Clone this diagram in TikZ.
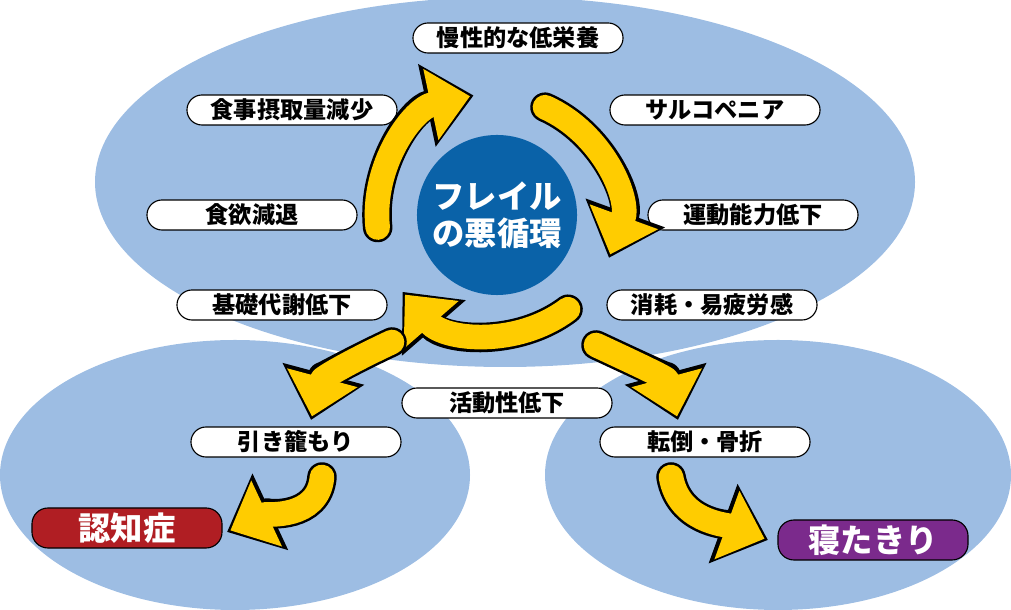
\documentclass[tikz,border=0pt]{standalone}
\usepackage{fontspec}
\setmainfont{Noto Sans CJK JP}
\usetikzlibrary{arrows.meta, calc}
\definecolor{pale}{HTML}{9DBDE3}
\definecolor{core}{HTML}{0A62A8}
\definecolor{flow}{HTML}{FFCC00}
\definecolor{dementia}{HTML}{B01E23}
\definecolor{bedrid}{HTML}{7B2A8C}
\tikzset{%
  tag/.style={draw=black, fill=white, thick, rounded corners=0.375cm,
    minimum width=5.25cm, minimum height=0.75cm, inner sep=0pt,
    font=\fontsize{16.5}{18}\selectfont\bfseries},
  goal/.style={draw=black, thick, rounded corners=0.4cm, text=white,
    minimum width=4.75cm, minimum height=1cm, inner sep=0pt,
    font=\fontsize{23}{25}\selectfont\bfseries},
  arrowedge/.style={draw=black, line width=21pt, line cap=round,
    -{Triangle[length=34pt, width=58pt]}},
  arrowfill/.style={draw=flow, line width=17.5pt, line cap=round, shorten >=2.6pt,
    -{Triangle[length=28.5pt, width=50pt]}}
}
\newcommand{\flowarrow}[1]{\draw[arrowedge] #1; \draw[arrowfill] #1;}

\begin{document}
\begin{tikzpicture}[x=0.025cm, y=0.025cm]

\useasboundingbox (0,0) rectangle (1011,610);

% background clouds
\fill[pale] (505,428) ellipse [x radius=410, y radius=185];
\fill[pale] (235,135) ellipse [x radius=235, y radius=135];
\fill[pale] (778,135) ellipse [x radius=233, y radius=135];

\node[circle, fill=core, minimum size=4cm, text=white, align=center,
  font=\fontsize{23}{26}\selectfont\bfseries] (cycle) at (497,395) {フレイル\\の悪循環};

\node[tag] (malnut) at (518,572) {慢性的な低栄養};
\node[tag] (intake) at (292,500) {食事摂取量減少};
\node[tag] (sarco) at (715,500) {サルコペニア};
\node[tag] (appetite) at (252,395) {食欲減退};
\node[tag] (motor) at (753,395) {運動能力低下};
\node[tag] (basal) at (282,305) {基礎代謝低下};
\node[tag] (fatigue) at (712,305) {消耗・易疲労感};
\node[tag] (activity) at (507,207) {活動性低下};
\node[tag] (withdraw) at (296,168) {引き籠もり};
\node[tag] (fall) at (705,168) {転倒・骨折};
\node[goal, fill=dementia] (dementia) at (127,82) {認知症};
\node[goal, fill=bedrid] (bedrid) at (873,70) {寝たきり};

% the cycle
\coordinate (s1) at ($(cycle)+(186:120)$);
\coordinate (s2) at ($(cycle)+(66:118)$);
\coordinate (s3) at ($(cycle)+(-53:118)$);
\flowarrow{(s1) arc[start angle=186, end angle=102, radius=122]}
\flowarrow{(s2) arc[start angle=66, end angle=-20, radius=120]}
\flowarrow{(s3) arc[start angle=-53, end angle=-139, radius=122]}

% consequences
\coordinate (s4) at (392,268);
\coordinate (t4) at (311,190);
\coordinate (s5) at (596,265);
\coordinate (t5) at (678,190);
\coordinate (s6) at (322,133);
\coordinate (t6) at (227,78);
\coordinate (s7) at (671,133);
\coordinate (t7) at (768,70);
\flowarrow{(s4) to[out=205, in=75] (t4)}
\flowarrow{(s5) to[out=-25, in=105] (t5)}
\flowarrow{(s6) to[out=-95, in=25] (t6)}
\flowarrow{(s7) to[out=-80, in=160] (t7)}

\end{tikzpicture}
\end{document}
